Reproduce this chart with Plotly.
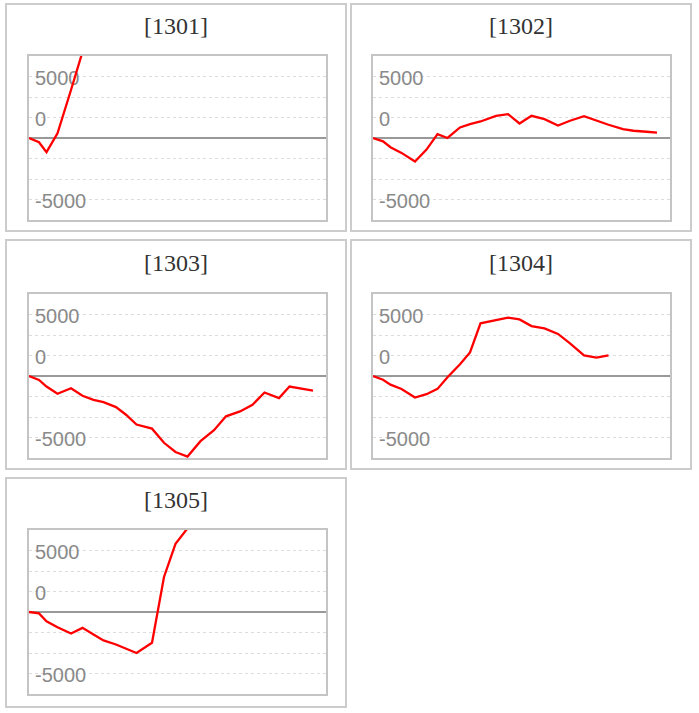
import plotly.graph_objects as go

# ---- data ----
codes = ["[1301]", "[1302]", "[1303]", "[1304]", "[1305]"]
day = [0, 10, 17.5, 28.5, 42, 53.5, 64.5, 74.5, 87, 97, 107.5, 123, 135,
       146.5, 158.5, 171.5, 185, 197, 211, 223.5, 235.5, 250, 260.5, 273.5, 284]
pl_1301 = [0, -350, -1150, 380, 3900, 7000]
pl_1302 = [0, -270, -750, -1210, -1910, -940, 320, 0, 860, 1130, 1345, 1800, 1940,
           1180, 1800, 1530, 1020, 1400, 1775, 1400, 1075, 725, 590, 510, 430]
pl_1303 = [0, -320, -860, -1450, -1000, -1610, -1940, -2120, -2530, -3150, -3950,
           -4280, -5430, -6180, -6550, -5300, -4410, -3280, -2880, -2340, -1340,
           -1800, -860, -1020, -1180]
pl_1304 = [0, -300, -700, -1050, -1750, -1480, -1050, -100, 950, 1910, 4280, 4550,
           4740, 4600, 4060, 3870, 3420, 2660, 1670, 1500, 1670]
pl_1305 = [0, -110, -750, -1240, -1750, -1290, -1830, -2310, -2640, -2950, -3330,
           -2500, 2850, 5540, 6800]
series = [pl_1301, pl_1302, pl_1303, pl_1304, pl_1305]
tick_vals = [5000, 1666.67, -5000, 3333.33, -1666.67, -3333.33]
tick_text = ["5000", "0", "-5000", "", "", ""]

# ---- layout geometry (pixels) ----
W, H = 699, 713
plots = [(29, 326, 56, 220), (373, 670, 56, 220), (29, 326, 294, 458),
         (373, 670, 294, 458), (29, 326, 530, 694)]
boxes = [(6, 346, 4, 231), (351, 691, 4, 231), (6, 346, 240, 469),
         (351, 691, 240, 469), (6, 346, 478, 707)]
title_y = [26, 26, 263, 263, 500]

fig = go.Figure()
layout = dict(width=W, height=H, margin=dict(l=0, r=0, t=0, b=0),
              paper_bgcolor="white", plot_bgcolor="white", showlegend=False,
              shapes=[], annotations=[])

for i, (vals, (x0, x1, y0, y1)) in enumerate(zip(series, plots)):
    n = i + 1
    xa = "xaxis" if n == 1 else f"xaxis{n}"
    ya = "yaxis" if n == 1 else f"yaxis{n}"
    fig.add_trace(go.Scatter(x=day[:len(vals)], y=vals, mode="lines",
                             line=dict(color="#ff0000", width=2.3),
                             xaxis=f"x{'' if n == 1 else n}",
                             yaxis=f"y{'' if n == 1 else n}",
                             hoverinfo="skip"))
    layout[xa] = dict(domain=[x0 / W, x1 / W], range=[0, 297], showgrid=False,
                      zeroline=False, showticklabels=False, ticks="",
                      showline=True, mirror=True, linecolor="#c4c4c4", linewidth=2,
                      anchor=f"y{'' if n == 1 else n}", fixedrange=True)
    layout[ya] = dict(domain=[1 - y1 / H, 1 - y0 / H], range=[-6667, 6667],
                      tickmode="array", tickvals=tick_vals, ticktext=tick_text,
                      ticks="", ticklabelposition="inside", ticklabelstandoff=7,
                      ticklabelshift=1, layer="below traces",
                      tickfont=dict(family="Liberation Sans", size=20, color="#8a8a8a"),
                      showgrid=True, gridcolor="#dcdcdc", griddash="dot", gridwidth=1,
                      zeroline=True, zerolinecolor="#999999", zerolinewidth=2,
                      showline=True, mirror=True, linecolor="#c4c4c4", linewidth=2,
                      anchor=f"x{'' if n == 1 else n}", fixedrange=True)

for (bx0, bx1, by0, by1), code, ty in zip(boxes, codes, title_y):
    layout["shapes"].append(dict(type="rect", xref="paper", yref="paper",
                                 x0=bx0 / W, x1=bx1 / W, y0=1 - by1 / H, y1=1 - by0 / H,
                                 line=dict(color="#cccccc", width=2), layer="below"))
    layout["annotations"].append(dict(text=code, xref="paper", yref="paper",
                                      x=(bx0 + bx1) / 2 / W, y=1 - ty / H,
                                      xanchor="center", yanchor="middle", showarrow=False,
                                      font=dict(family="Liberation Serif", size=24,
                                                color="#333333")))

fig.update_layout(**layout)
fig.write_html("out.html", config={"displayModeBar": False},
               post_script="document.body.style.margin='0';document.body.style.overflow='hidden';")
